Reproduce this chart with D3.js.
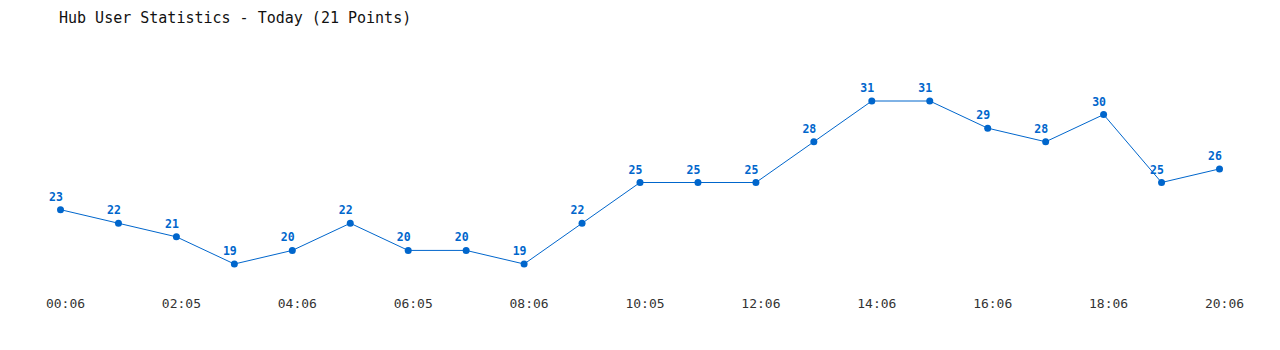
<!DOCTYPE html>
<html>
<head>
<meta charset="utf-8">
<script src="https://cdn.jsdelivr.net/npm/d3@7"></script>
<style>
  html, body { margin: 0; padding: 0; background: #fff; }
  svg { display: block; }
</style>
</head>
<body>
<svg id="chart" width="1280" height="350"></svg>
<script>
const title = "Hub User Statistics - Today (21 Points)";
const pointIndex = d3.range(21);
const users = [23, 22, 21, 19, 20, 22, 20, 20, 19, 22, 25, 25, 25, 28, 31, 31, 29, 28, 30, 25, 26];
const tickIndex = [0, 2, 4, 6, 8, 10, 12, 14, 16, 18, 20];
const tickLabels = ["00:06", "02:05", "04:06", "06:05", "08:06", "10:05", "12:06", "14:06", "16:06", "18:06", "20:06"];

const svg = d3.select("#chart");
const blue = "#0066cc";

const x = d3.scaleLinear().domain([0, 20]).range([60.5, 1219.5]);
const y = d3.scaleLinear().domain([19, 31]).range([264, 101]);

svg.append("text")
  .attr("x", 59).attr("y", 23)
  .attr("font-family", "DejaVu Sans Mono, monospace")
  .attr("font-size", 15)
  .attr("fill", "#111")
  .text(title);

const xAxis = d3.axisBottom(x)
  .tickValues(tickIndex)
  .tickFormat((d, i) => tickLabels[i])
  .tickSize(0)
  .tickPadding(0);

const gx = svg.append("g").attr("transform", "translate(4.5,299)").call(xAxis);
gx.select(".domain").remove();
gx.selectAll("text")
  .attr("font-family", "DejaVu Sans Mono, monospace")
  .attr("font-size", 13)
  .attr("fill", "#333")
  .attr("dy", "0.71em");

const line = d3.line().x(i => x(i)).y(i => y(users[i]));
svg.append("path")
  .datum(pointIndex)
  .attr("d", line)
  .attr("fill", "none")
  .attr("stroke", blue)
  .attr("stroke-width", 1);

svg.selectAll("circle.pt")
  .data(pointIndex)
  .join("circle")
  .attr("class", "pt")
  .attr("cx", i => x(i))
  .attr("cy", i => y(users[i]))
  .attr("r", 3.5)
  .attr("fill", blue);

svg.selectAll("text.val")
  .data(pointIndex)
  .join("text")
  .attr("class", "val")
  .attr("x", i => x(i) - 4.5)
  .attr("y", i => y(users[i]) - 9)
  .attr("text-anchor", "middle")
  .attr("font-family", "DejaVu Sans Mono, monospace")
  .attr("font-weight", "bold")
  .attr("font-size", 11.5)
  .attr("fill", blue)
  .text(i => users[i]);
</script>
</body>
</html>
